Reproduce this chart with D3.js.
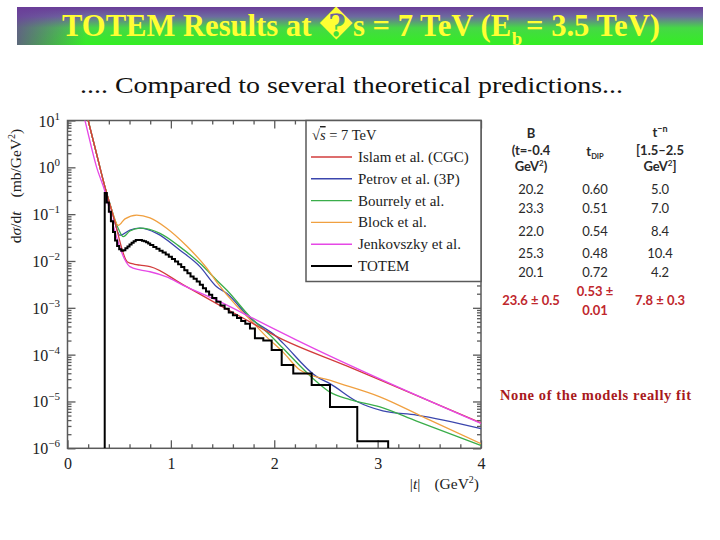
<!DOCTYPE html>
<html><head><meta charset="utf-8">
<script src="https://cdn.jsdelivr.net/npm/d3@7"></script>
<style>html,body{margin:0;padding:0;background:#fff;} svg{display:block;}</style>
</head><body>
<svg id="c" width="720" height="540"></svg>
<script>
// ---------------- data ----------------
const totemEdges = [0.36,0.38,0.40,0.42,0.44,0.46,0.48,0.50,0.52,0.54,0.56,0.58,0.60,0.62,0.64,0.66,0.68,0.70,0.72,0.74,0.76,0.78,0.80,
  0.83,0.86,0.89,0.92,0.95,0.98,1.01,1.04,1.07,1.10,1.13,1.16,1.19,1.22,1.25,1.28,1.31,1.34,1.37,1.40,
  1.44,1.48,1.52,1.56,1.60,1.64,1.68,1.72,1.765,1.813,1.894,1.975,2.072,2.184,2.362,2.539,2.803,3.102];
const totemValues = [0.282,0.178,0.112,0.0708,0.0417,0.0275,0.0209,0.0178,0.0166,0.0170,0.0186,0.0204,0.0224,0.0245,0.0263,0.0279,0.0282,0.0279,0.0272,0.0263,0.0251,0.0237,
  0.0219,0.0200,0.0182,0.0166,0.0151,0.0138,0.0123,0.0110,0.00977,0.00851,0.00741,0.00631,0.00550,0.00468,0.00417,0.00363,0.00309,0.00263,0.00224,0.00191,
  0.00162,0.00135,0.00112,0.000955,0.000794,0.000692,0.000603,0.000525,0.000457,
  0.000363,0.000224,0.000200,0.000126,0.0000603,0.0000398,0.0000224,0.00000759,0.00000141];

const islamT = [0.15,0.20,0.30,0.36,0.45,0.58,0.65,0.701,0.798,1.12,1.443,1.765,2.04,2.70,3.022,4.0];
const islamV = [27,10,1.32,0.398,0.0794,0.00955,0.00851,0.00813,0.00759,0.00309,0.00123,0.000501,0.000234,0.0000575,0.0000288,0.00000347];

const petrovT = [0.15,0.20,0.30,0.36,0.42,0.508,0.604,0.701,0.863,1.088,1.281,1.443,1.540,1.765,2.023,2.087,2.410,2.539,2.80,3.05,3.377,4.0];
const petrovV = [27,10,1.32,0.398,0.141,0.0355,0.0457,0.0501,0.0389,0.0170,0.00759,0.00282,0.00204,0.000603,0.000240,0.000174,0.0000339,0.0000240,0.0000100,0.00000631,0.00000513,0.00000263];

const bourrelyT = [0.15,0.20,0.30,0.36,0.42,0.49,0.54,0.604,0.701,0.895,1.088,1.281,1.443,1.540,1.765,1.99,2.087,2.41,2.539,2.732,3.022,3.377,4.0];
const bourrelyV = [27,10,1.32,0.398,0.141,0.0501,0.0331,0.0437,0.0501,0.0389,0.0200,0.00891,0.00389,0.00240,0.000646,0.000224,0.000135,0.0000263,0.0000158,0.0000110,0.00000767,0.00000380,0.00000115];

const blockT = [0.15,0.20,0.30,0.36,0.42,0.49,0.556,0.669,0.798,0.959,1.153,1.346,1.443,1.636,1.765,1.926,2.087,2.249,2.571,3.022,3.506,4.0];
const blockV = [27,10,1.32,0.398,0.141,0.0575,0.0794,0.0955,0.0832,0.0501,0.0209,0.00708,0.00355,0.00110,0.000562,0.000240,0.000112,0.0000468,0.0000269,0.0000126,0.00000398,0.00000126];

const jenkovszkyT = [0.12,0.169,0.282,0.36,0.45,0.55,0.604,0.701,0.798,0.959,1.120,1.443,1.797,2.217,4.0];
const jenkovszkyV = [27,10,1.0,0.316,0.0501,0.0112,0.00759,0.00646,0.00589,0.00457,0.00302,0.00146,0.000594,0.000204,0.00000339];

const legendLabels = ["Islam et al. (CGC)","Petrov et al. (3P)","Bourrely et al.","Block et al.","Jenkovszky et al.","TOTEM"];
const seriesColors = ["#d23c3c","#3b46ad","#3aad4a","#f0a040","#e648e6","#000000"];

const xTickValues = [0,1,2,3,4];
const yTickExponents = [-6,-5,-4,-3,-2,-1,0,1];

const tableB = ["20.2","23.3","22.0","25.3","20.1"];
const tableTdip = ["0.60","0.51","0.54","0.48","0.72"];
const tableN = ["5.0","7.0","8.4","10.4","4.2"];
const totemB = "23.6 \u00b1 0.5";
const totemTdip = ["0.53 \u00b1","0.01"];
const totemN = "7.8 \u00b1 0.3";

// ---------------- layout ----------------
const svg = d3.select("#c");
const L = 67.5, R = 481, T = 120.5, B = 448.3;
const x = d3.scaleLinear().domain([0,4]).range([L,R]);
const y = d3.scaleLog().domain([1e-6,10]).range([B,T]);
const serif = "'Liberation Serif','DejaVu Serif',serif";
const axisCol = "#5a5a5a";

// banner
const defs = svg.append("defs");
const g1 = defs.append("linearGradient").attr("id","bannerV").attr("x1",0).attr("y1",0).attr("x2",0).attr("y2",1);
g1.append("stop").attr("offset","0%").attr("stop-color","#6a3c98");
g1.append("stop").attr("offset","25%").attr("stop-color","#6d6aa0");
g1.append("stop").attr("offset","55%").attr("stop-color","#46d846");
g1.append("stop").attr("offset","100%").attr("stop-color","#33ee22");
const g2 = defs.append("linearGradient").attr("id","bannerH").attr("x1",0).attr("y1",0).attr("x2",1).attr("y2",0);
g2.append("stop").attr("offset","0%").attr("stop-color","#6a3c98").attr("stop-opacity",0.75);
g2.append("stop").attr("offset","10%").attr("stop-color","#6a3c98").attr("stop-opacity",0);
g2.append("stop").attr("offset","100%").attr("stop-color","#6a3c98").attr("stop-opacity",0);
svg.append("rect").attr("x",17).attr("y",7).attr("width",686).attr("height",38).attr("fill","url(#bannerV)");
svg.append("rect").attr("x",17).attr("y",7).attr("width",686).attr("height",38).attr("fill","url(#bannerH)");

// title as separate pieces, scaled horizontally to the reference width
const tg = svg.append("g");
function tpart(txt,size,yy){ return tg.append("text").attr("y",yy).attr("font-family",serif).attr("font-weight","bold")
  .attr("font-size",size).attr("fill","#ffff33").text(txt); }
const p1 = tpart("TOTEM Results at \uFFFDs = 7 TeV (E",31,36);
const p2 = tpart("b",19,45);
const p3 = tpart("= 3.5 TeV)",31,36);
let cx = 0;
p1.attr("x",cx); cx += p1.node().getComputedTextLength() + 0.5;
p2.attr("x",cx); cx += p2.node().getComputedTextLength() + 4;
p3.attr("x",cx); cx += p3.node().getComputedTextLength();
tg.attr("transform",`translate(62,0) scale(${598/cx},1)`);

svg.append("text").attr("x",80).attr("y",93).attr("font-family",serif).attr("font-size",24)
  .attr("fill","#111").attr("textLength",543).attr("lengthAdjust","spacingAndGlyphs")
  .text(".... Compared to several theoretical predictions...");

// clip
defs.append("clipPath").attr("id","plotClip").append("rect")
  .attr("x",L).attr("y",T).attr("width",R-L).attr("height",B-T);

// axes ticks
const xMinor = d3.range(1,20).map(i=>i*0.2).filter(v=>Math.abs(v-Math.round(v))>1e-6);
const yMajor = yTickExponents.map(e=>Math.pow(10,e));
const yMinor = [];
for (let e=-6;e<1;e++) for (let k=2;k<=9;k++) yMinor.push(k*Math.pow(10,e));

function styleAxis(g){ g.select(".domain").remove(); g.selectAll("line").attr("stroke",axisCol).attr("stroke-width",1.3); }

const axBottom = svg.append("g").attr("transform",`translate(0,${B})`);
axBottom.call(d3.axisBottom(x).tickValues(xTickValues).tickSize(-8).tickPadding(9).tickFormat(d3.format("d")));
styleAxis(axBottom);
axBottom.selectAll("text").attr("font-family",serif).attr("font-size",16).attr("fill","#222");
const axBottomMinor = svg.append("g").attr("transform",`translate(0,${B})`);
axBottomMinor.call(d3.axisBottom(x).tickValues(xMinor).tickSize(-4).tickFormat(""));
styleAxis(axBottomMinor);

const axTop = svg.append("g").attr("transform",`translate(0,${T})`);
axTop.call(d3.axisTop(x).tickValues(xTickValues).tickSize(-8).tickFormat(""));
styleAxis(axTop);
const axTopMinor = svg.append("g").attr("transform",`translate(0,${T})`);
axTopMinor.call(d3.axisTop(x).tickValues(xMinor).tickSize(-4).tickFormat(""));
styleAxis(axTopMinor);

const axLeft = svg.append("g").attr("transform",`translate(${L},0)`);
axLeft.call(d3.axisLeft(y).tickValues(yMajor).tickSize(-8).tickFormat(""));
styleAxis(axLeft);
const axLeftMinor = svg.append("g").attr("transform",`translate(${L},0)`);
axLeftMinor.call(d3.axisLeft(y).tickValues(yMinor).tickSize(-4).tickFormat(""));
styleAxis(axLeftMinor);

const axRight = svg.append("g").attr("transform",`translate(${R},0)`);
axRight.call(d3.axisRight(y).tickValues(yMajor).tickSize(-8).tickFormat(""));
styleAxis(axRight);
const axRightMinor = svg.append("g").attr("transform",`translate(${R},0)`);
axRightMinor.call(d3.axisRight(y).tickValues(yMinor).tickSize(-4).tickFormat(""));
styleAxis(axRightMinor);

// y tick labels with superscripts
const yl = svg.append("g");
yTickExponents.forEach(e=>{
  const t = yl.append("text").attr("x",60).attr("y",y(Math.pow(10,e))+6)
    .attr("text-anchor","end").attr("font-family",serif).attr("font-size",16).attr("fill","#222");
  t.append("tspan").text("10");
  t.append("tspan").attr("font-size",11).attr("dy",-7).text(e<0 ? "\u2212"+(-e) : String(e));
});

// frame
svg.append("rect").attr("x",L).attr("y",T).attr("width",R-L).attr("height",B-T)
  .attr("fill","none").attr("stroke",axisCol).attr("stroke-width",1.5);

// axis titles
const ylab = svg.append("text").attr("transform","translate(21,186) rotate(-90)")
  .attr("text-anchor","middle").attr("font-family",serif).attr("font-size",15.5).attr("fill","#222");
ylab.append("tspan").text("d");
ylab.append("tspan").attr("font-style","italic").text("\u03c3");
ylab.append("tspan").text("/d");
ylab.append("tspan").attr("font-style","italic").text("t");
ylab.append("tspan").attr("dx",14).text("(mb/GeV");
ylab.append("tspan").attr("font-size",10).attr("dy",-6).text("2");
ylab.append("tspan").attr("dy",6).text(")");

const xlab = svg.append("text").attr("x",479).attr("y",489).attr("text-anchor","end")
  .attr("font-family",serif).attr("font-size",15.5).attr("fill","#222");
xlab.append("tspan").text("|");
xlab.append("tspan").attr("font-style","italic").text("t");
xlab.append("tspan").text("|");
xlab.append("tspan").attr("dx",14).text("(GeV");
xlab.append("tspan").attr("font-size",10).attr("dy",-6).text("2");
xlab.append("tspan").attr("dy",6).text(")");

// curves
const plot = svg.append("g").attr("clip-path","url(#plotClip)");
const line = d3.line().x(d=>x(d[0])).y(d=>y(d[1])).curve(d3.curveMonotoneX);
const models = [
  {t:petrovT, v:petrovV, c:seriesColors[1]},
  {t:bourrelyT, v:bourrelyV, c:seriesColors[2]},
  {t:blockT, v:blockV, c:seriesColors[3]},
  {t:islamT, v:islamV, c:seriesColors[0]},
  {t:jenkovszkyT, v:jenkovszkyV, c:seriesColors[4]}
];
models.forEach(m=>{
  plot.append("path").datum(m.t.map((t,i)=>[t,m.v[i]]))
    .attr("d",line).attr("fill","none").attr("stroke",m.c).attr("stroke-width",1.3);
});

// TOTEM histogram
const yMin = y.domain()[0];
const hist = [[totemEdges[0], yMin]];
totemValues.forEach((v,i)=>{ hist.push([totemEdges[i], v]); hist.push([totemEdges[i+1], v]); });
hist.push([totemEdges[totemEdges.length-1], yMin]);
plot.append("path").datum(hist)
  .attr("d", d3.line().x(d=>x(d[0])).y(d=>y(d[1])))
  .attr("fill","none").attr("stroke","#000").attr("stroke-width",2).attr("stroke-linejoin","miter");

// legend
const lg = svg.append("g");
lg.append("rect").attr("x",306).attr("y",T).attr("width",R-306).attr("height",161)
  .attr("fill","#fff").attr("stroke",axisCol).attr("stroke-width",1.5);
const lh = lg.append("text").attr("x",312).attr("y",140).attr("font-family",serif).attr("font-size",14.5).attr("fill","#222");
lh.append("tspan").text("\u221a");
lh.append("tspan").attr("font-style","italic").attr("text-decoration","overline").text("s");
lh.append("tspan").text(" = 7 TeV");
legendLabels.forEach((lab,i)=>{
  const yy = 157 + i*21.8;
  lg.append("line").attr("x1",311).attr("x2",352).attr("y1",yy).attr("y2",yy)
    .attr("stroke",seriesColors[i]).attr("stroke-width", i===5 ? 2 : 1.4);
  lg.append("text").attr("x",358).attr("y",yy+5).attr("font-family",serif).attr("font-size",15)
    .attr("fill","#222").text(lab);
});

// table
const tf = "Lato,'Open Sans',sans-serif";
const colX = [531,595,660];
const tb = svg.append("g").attr("font-family",tf).attr("text-anchor","middle");
function tt(xp,yp,txt,opt){ const e = tb.append("text").attr("x",xp).attr("y",yp).attr("font-size",opt&&opt.size||13)
  .attr("fill",opt&&opt.col||"#2a2a2a").attr("font-weight",opt&&opt.w||"normal").text(txt); return e; }
tt(colX[0],138,"B",{w:"bold"});
tt(colX[0],155,"(t=-0.4",{w:"bold"});
const gv = tt(colX[0],171,"GeV",{w:"bold"}); gv.append("tspan").attr("font-size",8).attr("dy",-5).text("2"); gv.append("tspan").attr("dy",5).text(")");
const td = tt(colX[1],156,"t",{w:"bold"}); td.append("tspan").attr("font-size",7.5).attr("dy",3).text("DIP");
const tn = tt(colX[2],137,"t",{w:"bold"}); tn.append("tspan").attr("font-size",9).attr("dy",-5).text("\u2212n");
tt(colX[2],155,"[1.5\u20132.5",{w:"bold"});
const gv2 = tt(colX[2],171,"GeV",{w:"bold"}); gv2.append("tspan").attr("font-size",8).attr("dy",-5).text("2"); gv2.append("tspan").attr("dy",5).text("]");
const rowY = [194,213,236,258,277];
tableB.forEach((v,i)=>{
  tt(colX[0],rowY[i],v); tt(colX[1],rowY[i],tableTdip[i]); tt(colX[2],rowY[i],tableN[i]);
});
const red = "#c0272d";
tt(colX[0],305,totemB,{col:red,w:"bold"});
tt(colX[1],296,totemTdip[0],{col:red,w:"bold"});
tt(colX[1],315,totemTdip[1],{col:red,w:"bold"});
tt(colX[2],305,totemN,{col:red,w:"bold"});

svg.append("text").attr("x",500).attr("y",400).attr("font-family",serif).attr("font-weight","bold")
  .attr("font-size",14.5).attr("fill","#a8191c").attr("textLength",191).attr("lengthAdjust","spacing")
  .text("None of the models really fit");
</script>
</body></html>
